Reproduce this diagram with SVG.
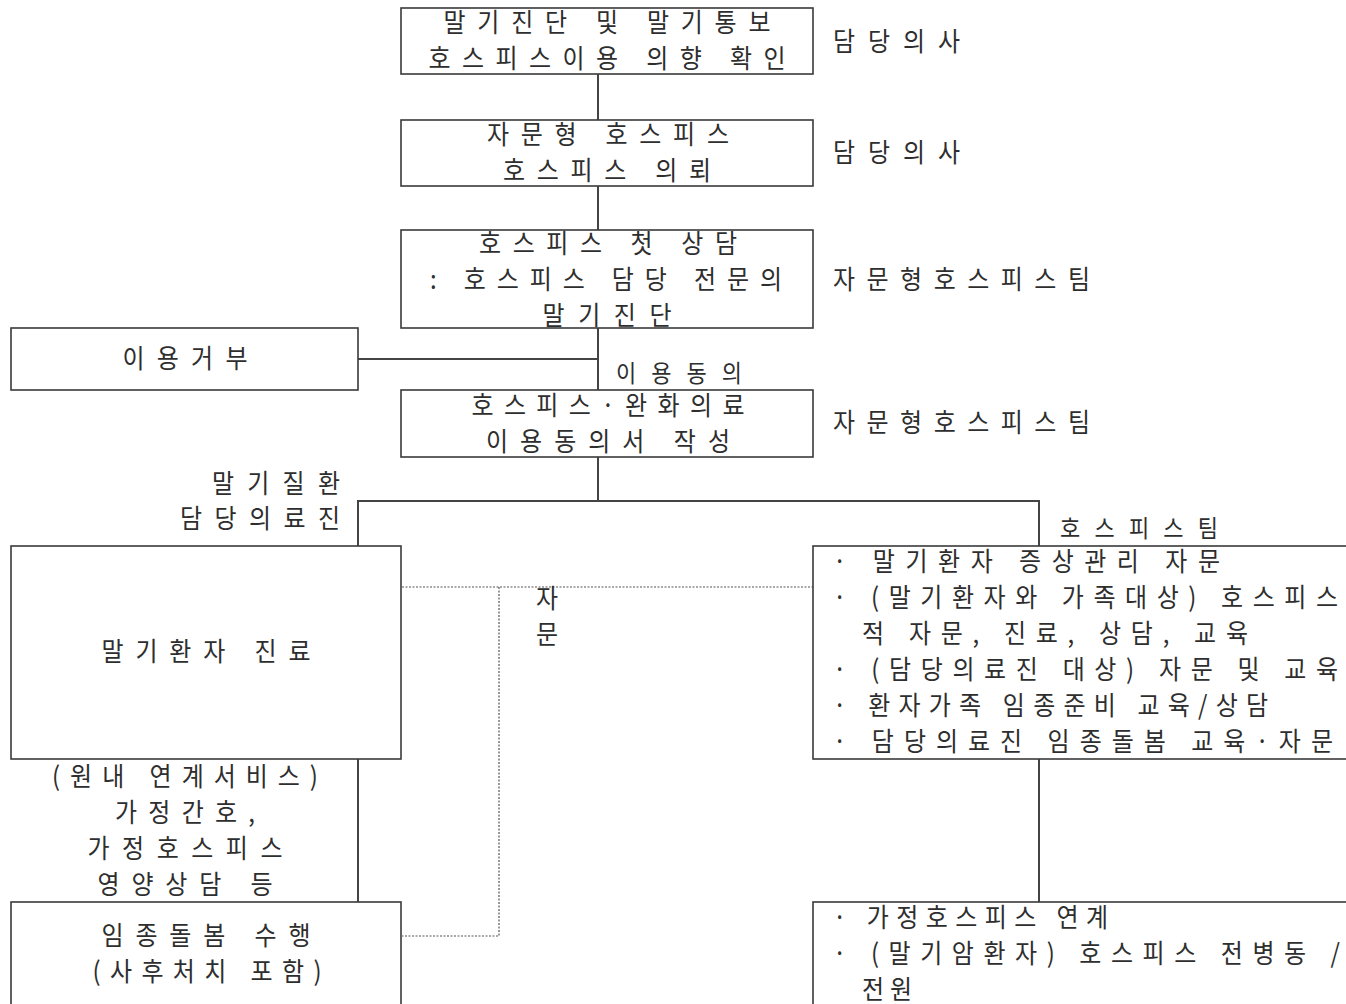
<svg xmlns="http://www.w3.org/2000/svg" width="1346" height="1004" viewBox="0 0 1346 1004">
  <defs>
    <style>
      .box { fill: #ffffff; stroke: #3a3a3a; stroke-width: 1.6; }
      .ln { fill: none; stroke: #444444; stroke-width: 2; }
      .dot { fill: none; stroke: #555555; stroke-width: 1.2; stroke-dasharray: 2 1.5; }
      text { font-family: "Noto Sans CJK KR", "Noto Sans", sans-serif; font-size: 24px; fill: #2e2e2e; }
      .c { text-anchor: middle; }
      .tight { font-size: 22px; }
    </style>
  </defs>
  <rect width="1346" height="1004" fill="#ffffff"/>

  <!-- connectors -->
  <g id="connectors">
    <line class="ln" x1="598" y1="74" x2="598" y2="120"/>
    <line class="ln" x1="598" y1="186" x2="598" y2="230"/>
    <line class="ln" x1="598" y1="328" x2="598" y2="390"/>
    <line class="ln" x1="358" y1="359" x2="598" y2="359"/>
    <polyline class="ln" points="598,457 598,501"/>
    <polyline class="ln" points="358,546 358,501 1039,501 1039,546"/>
    <line class="ln" x1="358" y1="759" x2="358" y2="902"/>
    <line class="ln" x1="1039" y1="759" x2="1039" y2="902"/>
    <polyline class="dot" points="402,587 813,587"/>
    <polyline class="dot" points="499,587 499,936 402,936"/>
  </g>

  <!-- node frames -->
  <g id="n-diagnosis"><rect class="box" x="401" y="8" width="412" height="66"/></g>
  <g id="n-referral"><rect class="box" x="401" y="120" width="412" height="66"/></g>
  <g id="n-first-consult"><rect class="box" x="401" y="230" width="412" height="98"/></g>
  <g id="n-refuse"><rect class="box" x="11" y="328" width="347" height="62"/></g>
  <g id="n-consent"><rect class="box" x="401" y="390" width="412" height="67"/></g>
  <g id="n-care"><rect class="box" x="11" y="546" width="390" height="213"/></g>
  <g id="n-endoflife"><rect class="box" x="11" y="902" width="390" height="110"/></g>
  <g id="n-team"><rect class="box" x="813" y="546" width="545" height="213"/></g>
  <g id="n-transfer"><rect class="box" x="813" y="902" width="545" height="110"/></g>

  <!-- all labels share a slightly tall (1 : 1.1) glyph shape; y values are in the stretched space -->
  <g id="labels" transform="scale(1,1.1)">
    <g id="t-diagnosis">
      <text class="c" x="607" y="29.09" textLength="327" lengthAdjust="spacing">말기진단 및 말기통보</text>
      <text class="c" x="607" y="61.82" textLength="357" lengthAdjust="spacing">호스피스이용 의향 확인</text>
    </g>
    <text x="833" y="46.36" textLength="127" lengthAdjust="spacing">담당의사</text>

    <g id="t-referral">
      <text class="c" x="608" y="130.91" textLength="242" lengthAdjust="spacing">자문형 호스피스</text>
      <text class="c" x="607" y="163.64" textLength="208" lengthAdjust="spacing">호스피스 의뢰</text>
    </g>
    <text x="833" y="147.27" textLength="127" lengthAdjust="spacing">담당의사</text>

    <g id="t-first-consult">
      <text class="c" x="608" y="230" textLength="258" lengthAdjust="spacing">호스피스 첫 상담</text>
      <text class="c" x="606" y="262.73" textLength="352" lengthAdjust="spacing">: 호스피스 담당 전문의</text>
      <text class="c" x="607" y="295.45" textLength="129" lengthAdjust="spacing">말기진단</text>
    </g>
    <text x="833" y="262.73" textLength="257" lengthAdjust="spacing">자문형호스피스팀</text>

    <text class="c" x="185" y="334.55" textLength="125" lengthAdjust="spacing">이용거부</text>
    <text class="tight" x="616" y="347.5" textLength="126" lengthAdjust="spacing">이용동의</text>

    <g id="t-consent">
      <text class="c" x="608" y="377.27" textLength="273" lengthAdjust="spacing">호스피스·완화의료</text>
      <text class="c" x="608" y="410" textLength="244" lengthAdjust="spacing">이용동의서 작성</text>
    </g>
    <text x="833" y="392.73" textLength="257" lengthAdjust="spacing">자문형호스피스팀</text>

    <!-- branch labels -->
    <text x="212" y="448.18" textLength="128" lengthAdjust="spacing">말기질환</text>
    <text x="180" y="480" textLength="160" lengthAdjust="spacing">담당의료진</text>
    <text class="tight" x="1060" y="488.5" textLength="158" lengthAdjust="spacing">호스피스팀</text>

    <!-- left column -->
    <text class="c" x="206" y="600.91" textLength="209" lengthAdjust="spacing">말기환자 진료</text>
    <g id="t-services">
      <text class="c" x="185" y="714.55" textLength="266" lengthAdjust="spacing">(원내 연계서비스)</text>
      <text class="c" x="185" y="747.27" textLength="140" lengthAdjust="spacing">가정간호,</text>
      <text class="c" x="185" y="780" textLength="195" lengthAdjust="spacing">가정호스피스</text>
      <text class="c" x="185" y="812.73" textLength="175" lengthAdjust="spacing">영양상담 등</text>
    </g>
    <g id="t-endoflife">
      <text class="c" x="206" y="859.09" textLength="209" lengthAdjust="spacing">임종돌봄 수행</text>
      <text class="c" x="207" y="891.82" textLength="229" lengthAdjust="spacing">(사후처치 포함)</text>
    </g>

    <!-- label on the dotted consult link -->
    <text x="536" y="552.73">자</text>
    <text x="536" y="585.45">문</text>

    <!-- right column -->
    <g id="t-team">
      <text x="833" y="519.09" textLength="387" lengthAdjust="spacing">· 말기환자 증상관리 자문</text>
      <text x="833" y="551.82" textLength="505" lengthAdjust="spacing">· (말기환자와 가족대상) 호스피스</text>
      <text x="862" y="584.55" textLength="386" lengthAdjust="spacing">적 자문, 진료, 상담, 교육</text>
      <text x="833" y="617.27" textLength="505" lengthAdjust="spacing">· (담당의료진 대상) 자문 및 교육</text>
      <text x="833" y="650" textLength="435" lengthAdjust="spacing">· 환자가족 임종준비 교육/상담</text>
      <text x="833" y="682.73" textLength="500" lengthAdjust="spacing">· 담당의료진 임종돌봄 교육·자문</text>
    </g>
    <g id="t-transfer">
      <text x="833" y="842.73" textLength="275" lengthAdjust="spacing">· 가정호스피스 연계</text>
      <text x="833" y="875.45" textLength="507" lengthAdjust="spacing">· (말기암환자) 호스피스 전병동 /</text>
      <text x="862" y="908.18" textLength="50" lengthAdjust="spacing">전원</text>
    </g>
  </g>
</svg>
